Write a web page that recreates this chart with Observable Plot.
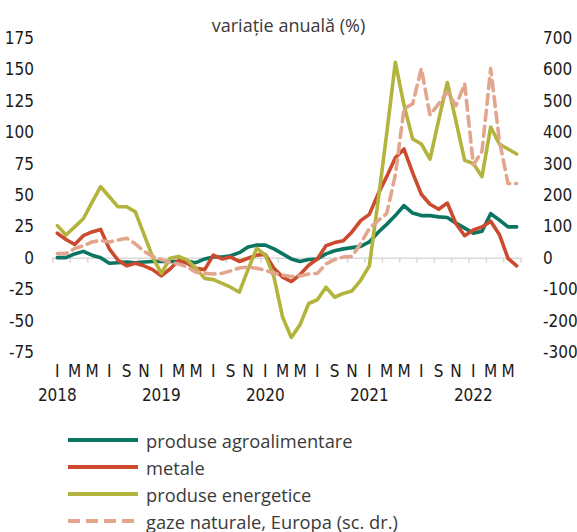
<!DOCTYPE html>
<html>
<head>
<meta charset="utf-8">
<script src="https://cdn.jsdelivr.net/npm/d3@7"></script>
<script src="https://cdn.jsdelivr.net/npm/@observablehq/plot@0.6"></script>
<style>
  html, body { margin: 0; padding: 0; background: #fff; }
  #wrap { position: relative; width: 577px; height: 532px; overflow: hidden; }
  #title { position: absolute; left: 0; top: 12px; width: 577px; text-align: center;
           font-family: "Open Sans", sans-serif; font-size: 18px; color: #3a3a3a; line-height: 26px; }
  #chart { position: absolute; left: 0; top: 0; }
  #legend { position: absolute; left: 0; top: 427px; width: 577px;
            font-family: "Open Sans", sans-serif; font-size: 18.3px; color: #3a3a3a; }
  .row { position: absolute; left: 68px; height: 26px; display: flex; align-items: center; white-space: nowrap; }
  .row svg { display: block; margin-right: 8px; }
</style>
</head>
<body>
<div id="wrap">
  <div id="chart"></div>
  <div id="title">variație anuală (%)</div>
  <div id="legend"></div>
</div>
<script>
// ---- data (monthly, Jan 2018 – Jun 2022) ----
const monthLetters = ["I", "M", "M", "I", "S", "N"];      // Jan, Mar, May, Jul, Sep, Nov
const yearLabels = ["2018", "2019", "2020", "2021", "2022"];
const leftTicks = [-75, -50, -25, 0, 25, 50, 75, 100, 125, 150, 175];

const agro = [0.5,0.5,3.5,5.5,2.5,0.5,-4,-3.5,-3,-3.5,
  -3,-2.5,-2.5,-2.5,-2.5,-2.5,-3.5,-0.5,1,1,
  2,4.5,9,10.5,10.5,7.5,3.5,-0.5,-2.5,-1,
  -0.5,3.5,6,7.5,8.5,9.5,13,20.5,27,34,
  42,36,34,34,33,32.5,28,24,20,21.5,
  35.5,30.5,25,25];
const metale = [20,15,11,18,21,23,7.5,-1.5,-6,-4,
  -6,-9,-14,-8.5,-1.5,-4,-8,-9,2.5,-0.5,
  1,-2.5,0,2.5,3,-8,-15,-18.5,-13,-5.5,
  -0.5,10,12.5,14,21,30,35,51,65,80,
  87,68,51,43,39,44,27.5,18,22.5,25,
  29.5,19,0,-6];
const energie = [26,18.5,25,31.5,44.5,57,49,41,41,37,
  19,1,-12,0,1.5,-1.5,-8,-16,-17,-20,
  -23,-27,-9,8,2.5,-15,-47,-63,-53,-36,
  -33,-23,-31,-28,-26,-17.5,-6,45,99,156,
  122,95,91,79,110,140,109,78,75.5,65,
  104.5,91,87,83];
// right axis (sc. dr.)
const gaz = [15,15,31,40,52,57,52,58,64,46,
  22,6,-4,-14,-18,-28,-44,-48,-50,-48,
  -40,-31,-28,-32,-38,-48,-54,-58,-56,-50,
  -48,-18,-4,4,6,47,95,120,142,265,
  476,492,604,456,492,530,486,556,298,340,
  604,376,238,238];

const seriesNames = ["produse agroalimentare", "metale", "produse energetice", "gaze naturale, Europa (sc. dr.)"];
const colors = ["#0b7561", "#cc4a2e", "#b3b43d", "#e2a58d"];
const ratio = 4; // right axis / left axis

const n = agro.length;
const idx = d3.range(n);
const monthTickIdx = d3.range(0, n, 2);
const yearIdx = yearLabels.map((_, k) => k * 12);
const sepIdx = d3.range(-0.5, n, 2);

const axisFont = "'Liberation Sans Narrow', 'Arial Narrow', 'DejaVu Sans Condensed', sans-serif";

const chart = Plot.plot({
  width: 577,
  height: 412,
  marginTop: 38,
  marginBottom: 60,
  marginLeft: 52.5,
  marginRight: 56.5,
  style: { fontFamily: axisFont, fontSize: "17px", color: "#1a1a1a", background: "transparent" },
  x: { domain: [-0.5, n - 0.5], axis: null },
  y: { domain: [-75, 175], axis: null },
  marks: [
    Plot.ruleY([0], { stroke: "#d9d9d9", strokeWidth: 1.6 }),
    Plot.ruleX(sepIdx, { x: d => d, y1: 0, y2: -4, stroke: "#d9d9d9", strokeWidth: 1.6 }),
    Plot.axisY(leftTicks, { anchor: "left", tickSize: 0, tickPadding: 19, tickFormat: d => String(d), fontSize: 17 }),
    Plot.axisY(leftTicks, { anchor: "right", tickSize: 0, tickPadding: 22, tickFormat: d => String(d * ratio), fontSize: 17 }),
    Plot.text(monthTickIdx, { x: d => d, text: d => monthLetters[(d % 12) / 2], frameAnchor: "bottom", dy: 24, fontSize: 17, fill: "#1a1a1a" }),
    Plot.text(yearIdx, { x: d => d, text: (d, i) => yearLabels[i], frameAnchor: "bottom", dy: 48, fontSize: 17, fill: "#1a1a1a" }),
    Plot.line(idx, { x: i => i, y: i => agro[i], stroke: colors[0], strokeWidth: 3.6, strokeLinejoin: "round" }),
    Plot.line(idx, { x: i => i, y: i => metale[i], stroke: colors[1], strokeWidth: 3.6, strokeLinejoin: "round" }),
    Plot.line(idx, { x: i => i, y: i => energie[i], stroke: colors[2], strokeWidth: 3.6, strokeLinejoin: "round" }),
    Plot.line(idx, { x: i => i, y: i => gaz[i] / ratio, stroke: colors[3], strokeWidth: 3.6, strokeDasharray: "10,6", strokeLinejoin: "round" })
  ]
});
document.getElementById("chart").appendChild(chart);

// legend
const legend = document.getElementById("legend");
const rowTops = [0, 27, 54, 81];
seriesNames.forEach((name, k) => {
  const row = document.createElement("div");
  row.className = "row";
  row.style.top = rowTops[k] + "px";
  const dash = k === 3 ? ' stroke-dasharray="12,6"' : "";
  row.innerHTML = `<svg width="70" height="8"><line x1="0" x2="70" y1="4" y2="4" stroke="${colors[k]}" stroke-width="4"${dash}/></svg><span>${name}</span>`;
  legend.appendChild(row);
});
</script>
</body>
</html>
